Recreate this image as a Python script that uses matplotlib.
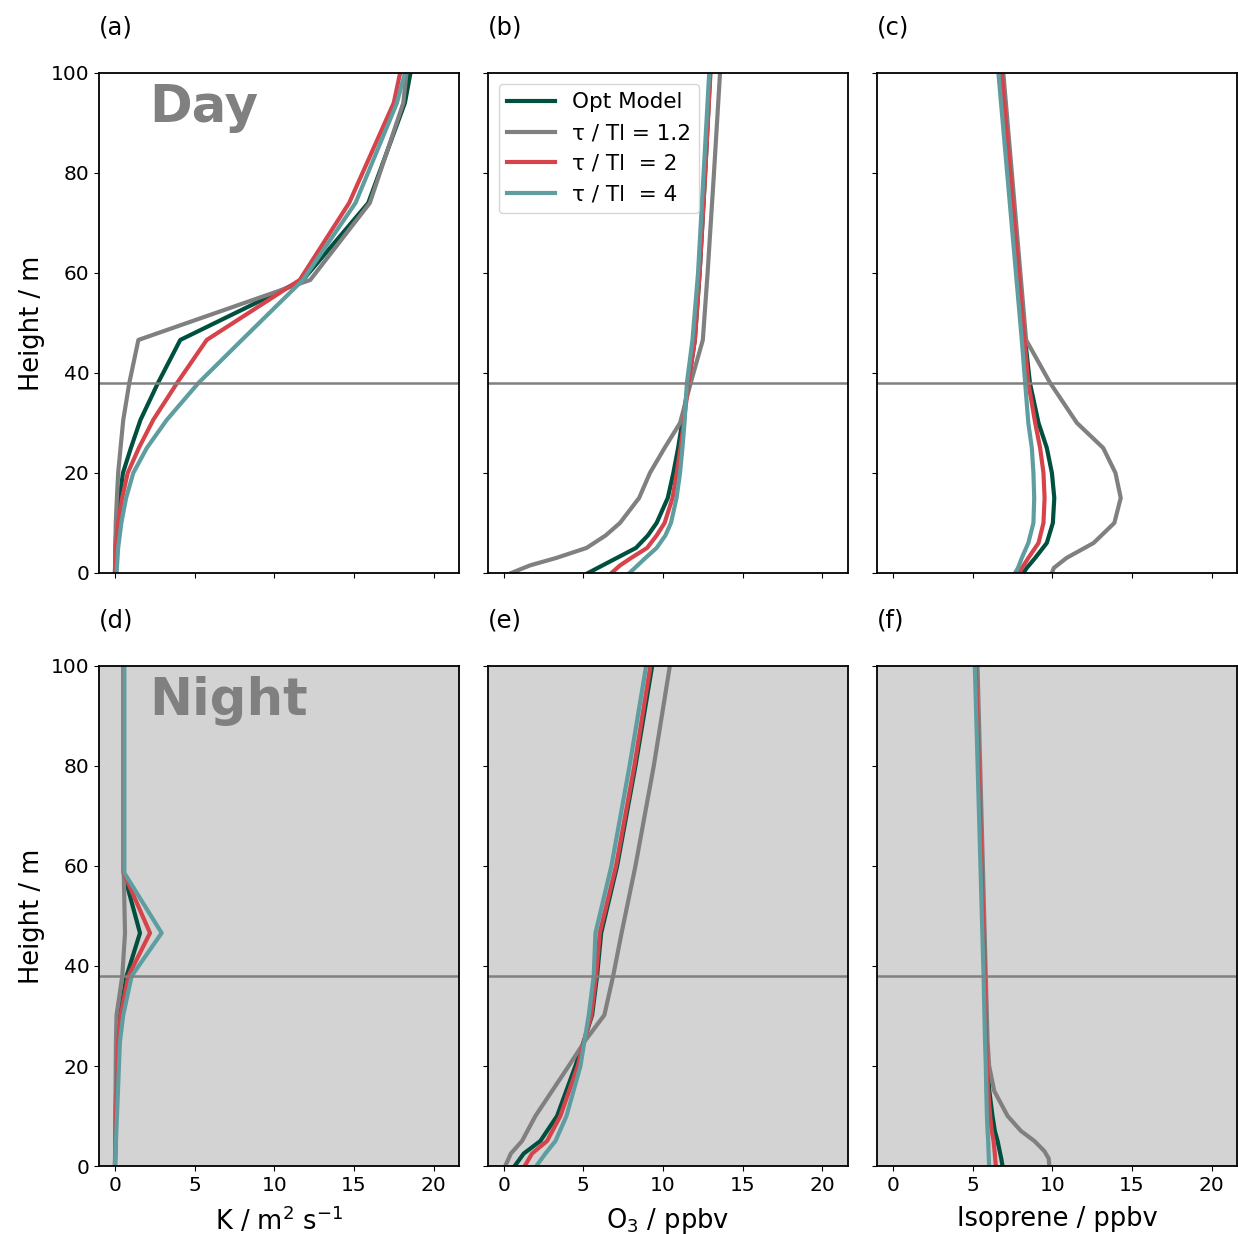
import matplotlib
matplotlib.use('Agg')
import matplotlib.pyplot as plt
import numpy as np

labels = ['Opt Model', 'τ / Tl = 1.2', 'τ / Tl  = 2', 'τ / Tl  = 4']
colors = ['#00503f', 'grey', '#d7434b', '#5f9ea0']
panel_tags = ['(a)', '(b)', '(c)', '(d)', '(e)', '(f)']
xlabels = ['K / m$^2$ s$^{-1}$', 'O$_3$ / ppbv', 'Isoprene / ppbv']
pbl_height = 38

# Day - K
h_k_day = [0, 5, 10, 15, 20, 25, 30.6, 38, 46.6, 58.6, 74, 94, 100]
k_day_opt = [0, 0.03, 0.1, 0.3, 0.5, 1.0, 1.6, 2.7, 4.1, 11.8, 15.9, 18.2, 18.55]
k_day_12 = [0, 0.02, 0.05, 0.12, 0.2, 0.35, 0.52, 0.9, 1.47, 12.26, 16.0, 18.1, 18.3]
k_day_2 = [0, 0.05, 0.2, 0.45, 0.8, 1.5, 2.4, 3.9, 5.76, 11.6, 14.7, 17.5, 17.9]
k_day_4 = [0.1, 0.2, 0.4, 0.7, 1.15, 2.0, 3.25, 5.24, 7.97, 11.8, 15.1, 17.7, 18.2]

# Day - O3
h_o3_day = [0, 1.5, 3, 5, 7.5, 10, 15, 20, 25, 30, 38, 46.6, 60, 80, 100]
o3_day_opt = [5.3, 6.2, 7.1, 8.3, 9.05, 9.6, 10.3, 10.65, 10.95, 11.2, 11.6, 12.0, 12.3, 12.65, 12.96]
o3_day_12 = [0.48, 1.64, 3.3, 5.2, 6.4, 7.3, 8.5, 9.18, 10.1, 11.07, 11.74, 12.5, 12.8, 13.2, 13.58]
o3_day_2 = [6.77, 7.3, 8.0, 9.0, 9.6, 10.1, 10.6, 10.86, 11.1, 11.3, 11.6, 12.0, 12.3, 12.65, 12.98]
o3_day_4 = [7.9, 8.4, 8.9, 9.6, 10.15, 10.5, 10.85, 11.07, 11.22, 11.35, 11.5, 11.85, 12.2, 12.55, 12.9]

# Day - isoprene
h_iso_day = [0, 1, 3, 6, 10, 15, 20, 25, 30, 38, 46.6, 100]
iso_day_opt = [8.19, 8.4, 8.93, 9.66, 10.04, 10.13, 9.98, 9.66, 9.14, 8.6, 8.3, 6.83]
iso_day_12 = [9.98, 10.1, 10.9, 12.6, 13.9, 14.3, 13.97, 13.2, 11.55, 9.87, 8.36, 6.93]
iso_day_2 = [7.94, 8.1, 8.5, 9.14, 9.45, 9.52, 9.45, 9.24, 8.93, 8.5, 8.26, 6.83]
iso_day_4 = [7.67, 7.85, 8.09, 8.5, 8.82, 8.87, 8.82, 8.72, 8.5, 8.3, 8.09, 6.62]

# Night - K
h_k_night = [0, 12, 24.8, 30.2, 38, 46.6, 58.6, 100]
k_night_opt = [0, 0.05, 0.15, 0.31, 0.73, 1.57, 0.55, 0.55]
k_night_12 = [0, 0.03, 0.06, 0.1, 0.46, 0.63, 0.55, 0.55]
k_night_2 = [0, 0.08, 0.2, 0.36, 0.84, 2.2, 0.55, 0.55]
k_night_4 = [0, 0.15, 0.31, 0.52, 1.05, 2.93, 0.59, 0.59]

# Night - O3
h_o3_night = [0, 2.5, 5, 10, 20, 25, 30.2, 38, 46.6, 60, 80, 100]
o3_night_opt = [0.69, 1.26, 2.3, 3.35, 4.5, 5.03, 5.55, 5.86, 6.12, 7.12, 8.27, 9.32]
o3_night_12 = [0.1, 0.45, 1.15, 1.99, 4.08, 5.1, 6.32, 6.87, 7.4, 8.27, 9.42, 10.43]
o3_night_2 = [1.32, 1.78, 2.72, 3.56, 4.65, 5.05, 5.5, 5.8, 6.03, 7.05, 8.2, 9.21]
o3_night_4 = [2.05, 2.62, 3.25, 3.94, 4.82, 5.07, 5.34, 5.65, 5.76, 6.76, 7.9, 8.94]

# Night - isoprene
h_iso_night = [0, 1.5, 3, 5, 7, 10, 15, 20, 25, 38, 100]
iso_night_opt = [6.88, 6.8, 6.7, 6.57, 6.4, 6.25, 6.05, 5.94, 5.85, 5.77, 5.2]
iso_night_12 = [9.82, 9.78, 9.5, 8.88, 8.04, 7.2, 6.36, 6.04, 5.94, 5.83, 5.31]
iso_night_2 = [6.46, 6.42, 6.38, 6.32, 6.2, 6.1, 5.98, 5.9, 5.85, 5.77, 5.2]
iso_night_4 = [6.04, 6.02, 6.0, 5.98, 5.94, 5.9, 5.86, 5.83, 5.78, 5.69, 5.14]

panels = [
    (h_k_day, [k_day_opt, k_day_12, k_day_2, k_day_4]),
    (h_o3_day, [o3_day_opt, o3_day_12, o3_day_2, o3_day_4]),
    (h_iso_day, [iso_day_opt, iso_day_12, iso_day_2, iso_day_4]),
    (h_k_night, [k_night_opt, k_night_12, k_night_2, k_night_4]),
    (h_o3_night, [o3_night_opt, o3_night_12, o3_night_2, o3_night_4]),
    (h_iso_night, [iso_night_opt, iso_night_12, iso_night_2, iso_night_4]),
]

fig = plt.figure(figsize=(12.38, 12.34), dpi=100)
lefts = [0.080, 0.394, 0.7084]
bottoms = [0.5357, 0.0551]
w, h = 0.2908, 0.4052

for i, (heights, series) in enumerate(panels):
    row, col = i // 3, i % 3
    ax = fig.add_axes([lefts[col], bottoms[row], w, h])
    if row == 1:
        ax.set_facecolor('lightgrey')
    for vals, c, lab in zip(series, colors, labels):
        ax.plot(vals, heights, color=c, lw=3, label=lab)
    ax.axhline(pbl_height, color='grey', lw=1.8)
    ax.set_xlim(-1.0, 21.6)
    ax.set_ylim(0, 100)
    ax.set_xticks([0, 5, 10, 15, 20])
    ax.set_yticks([0, 20, 40, 60, 80, 100])
    ax.tick_params(labelsize=14.5)
    for s in ax.spines.values():
        s.set_linewidth(1.3)
    if col == 0:
        ax.set_ylabel('Height / m', fontsize=18.5)
    else:
        ax.set_yticklabels([])
    if row == 1:
        ax.set_xlabel(xlabels[col], fontsize=18.5, labelpad=8)
    else:
        ax.set_xticklabels([])
    ax.text(0.0, 1.09, panel_tags[i], transform=ax.transAxes, fontsize=17.5, va='center')
    if i == 0:
        ax.text(0.14, 0.98, 'Day', transform=ax.transAxes, fontsize=37, fontweight='bold',
                color='grey', va='top')
    if i == 3:
        ax.text(0.14, 0.98, 'Night', transform=ax.transAxes, fontsize=37, fontweight='bold',
                color='grey', va='top')
    if i == 1:
        ax.legend(loc='upper left', fontsize=15.5, handlelength=2.2)

plt.savefig('out.png', dpi=100)
